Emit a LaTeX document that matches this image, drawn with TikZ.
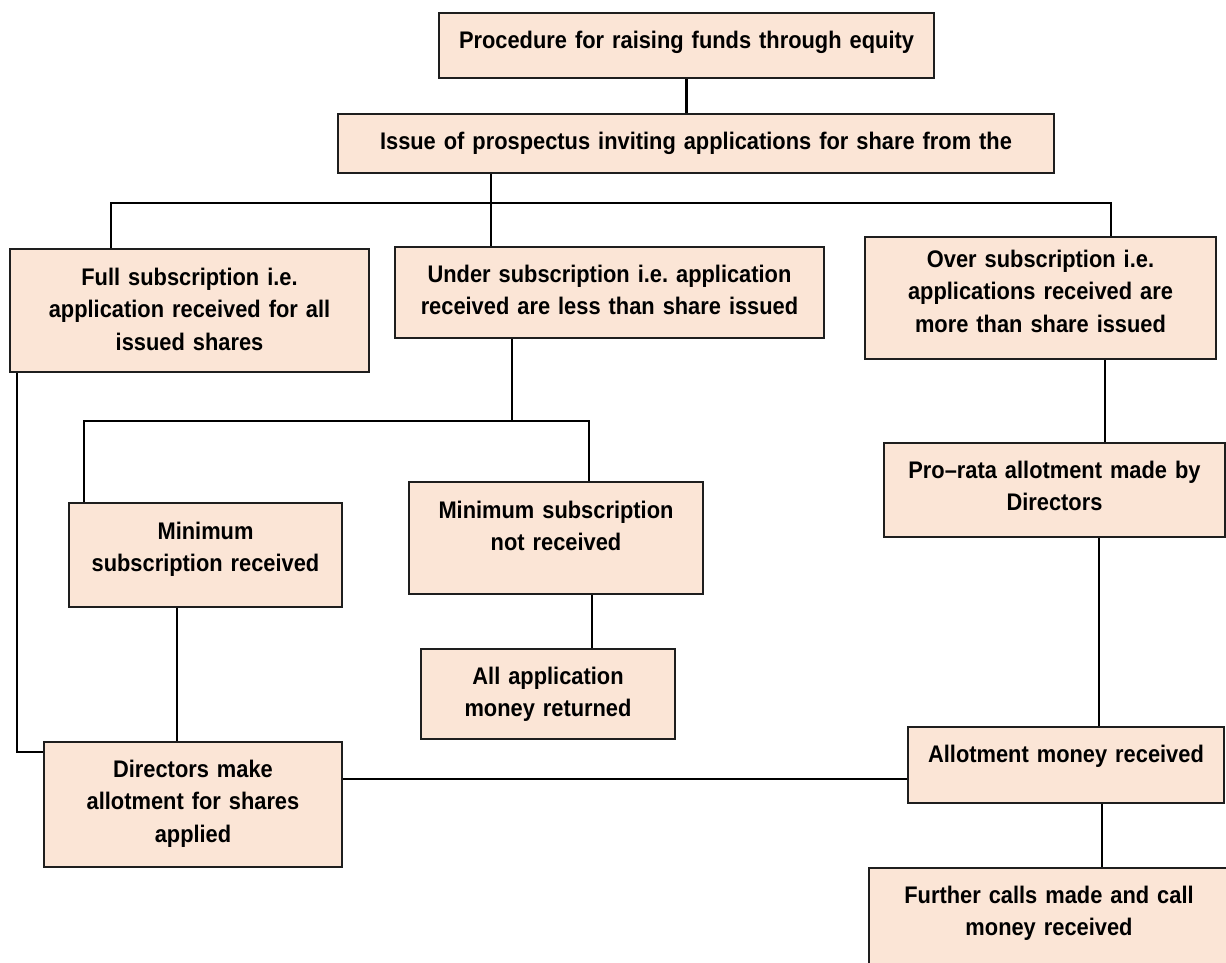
\documentclass[tikz,border=0pt]{standalone}
\usepackage{fontspec}
\setmainfont{Liberation Sans}[FakeStretch=0.91]
\definecolor{boxfill}{RGB}{251,229,214}
\definecolor{boxline}{RGB}{30,30,30}
\tikzset{
  stepbox/.style args={#1/#2/#3}{draw=boxline, line width=2pt, fill=boxfill, anchor=north west, inner sep=0pt, align=center, text width=#1pt, text height=#2pt, text depth=#3pt, font=\fontsize{24}{32.5}\selectfont\bfseries\frenchspacing},
  link/.style={line width=2.4pt, draw=black}
}
\begin{document}
\begin{tikzpicture}[x=1pt, y=-1pt]
    \useasboundingbox (0, 0) rectangle (1226, 962);
    \fill[white] (0, 0) rectangle (1226, 962);
    \clip (0, 0) rectangle (1226, 962);
    \node[stepbox=495/35/30] (Procedure) at (438, 12) {Procedure for raising funds through equity};
    \node[stepbox=716/35/24] (Prospectus) at (337, 113) {Issue of prospectus inviting applications for share from the};
    \node[stepbox=359/36/87] (Full) at (9, 248) {Full subscription i.e.\\ application received for all\\ issued shares};
    \node[stepbox=429/35/56] (Under) at (394, 246) {Under subscription i.e. application\\ received are less than share issued};
    \node[stepbox=351/30/92] (Over) at (864, 236) {Over subscription i.e.\\ applications received are\\ more than share issued};
    \node[stepbox=273/36/68] (Min Received) at (68, 502) {Minimum\\ subscription received};
    \node[stepbox=294/36/76] (Min Not Received) at (408, 481) {Minimum subscription\\ not received};
    \node[stepbox=254/35/55] (Money Returned) at (420, 648) {All application\\ money returned};
    \node[stepbox=298/35/90] (Directors Allot) at (43, 741) {Directors make\\ allotment for shares\\ applied};
    \node[stepbox=341/35/59] (Pro Rata) at (883, 442) {Pro--rata allotment made by\\ Directors};
    \node[stepbox=316/35/41] (Allotment Money) at (907, 726) {Allotment money received};
    \node[stepbox=360/35/70] (Further Calls) at (868, 867) {Further calls made and call\\ money received};
    \coordinate (Bus Left) at (111, 203);
    \coordinate (Bus Split) at (491, 203);
    \coordinate (Bus Right) at (1111, 203);
    \coordinate (Under Split) at (512, 421);
    \coordinate (Under Left) at (84, 421);
    \coordinate (Under Right) at (589, 421);
    \coordinate (Full Bend) at (17, 752);
    \coordinate (Min Drop) at (177, 0);
    \coordinate (Returned Drop) at (592, 0);
    \coordinate (Over Drop) at (1105, 0);
    \coordinate (Pro Rata Drop) at (1099, 0);
    \coordinate (Money Drop) at (1102, 0);
    \coordinate (Allot Link) at (0, 779);
    \draw[link] (Procedure.south) -- (Procedure.south |- Prospectus.north);
    \draw[link] (Prospectus.south -| Bus Split) -- (Under.north -| Bus Split);
    \draw[link] (Full.north -| Bus Left) -- (Bus Left) -- (Bus Right) -- (Over.north -| Bus Right);
    \draw[link] (Under.south -| Under Split) -- (Under Split);
    \draw[link] (Min Received.north -| Under Left) -- (Under Left) -- (Under Right) -- (Min Not Received.north -| Under Right);
    \draw[link] (Min Not Received.south -| Returned Drop) -- (Money Returned.north -| Returned Drop);
    \draw[link] (Min Received.south -| Min Drop) -- (Directors Allot.north -| Min Drop);
    \draw[link] (Full.south -| Full Bend) -- (Full Bend) -- (Directors Allot.west |- Full Bend);
    \draw[link] (Directors Allot.east |- Allot Link) -- (Allotment Money.west |- Allot Link);
    \draw[link] (Over.south -| Over Drop) -- (Pro Rata.north -| Over Drop);
    \draw[link] (Pro Rata.south -| Pro Rata Drop) -- (Allotment Money.north -| Pro Rata Drop);
    \draw[link] (Allotment Money.south -| Money Drop) -- (Further Calls.north -| Money Drop);
\end{tikzpicture}
\end{document}
